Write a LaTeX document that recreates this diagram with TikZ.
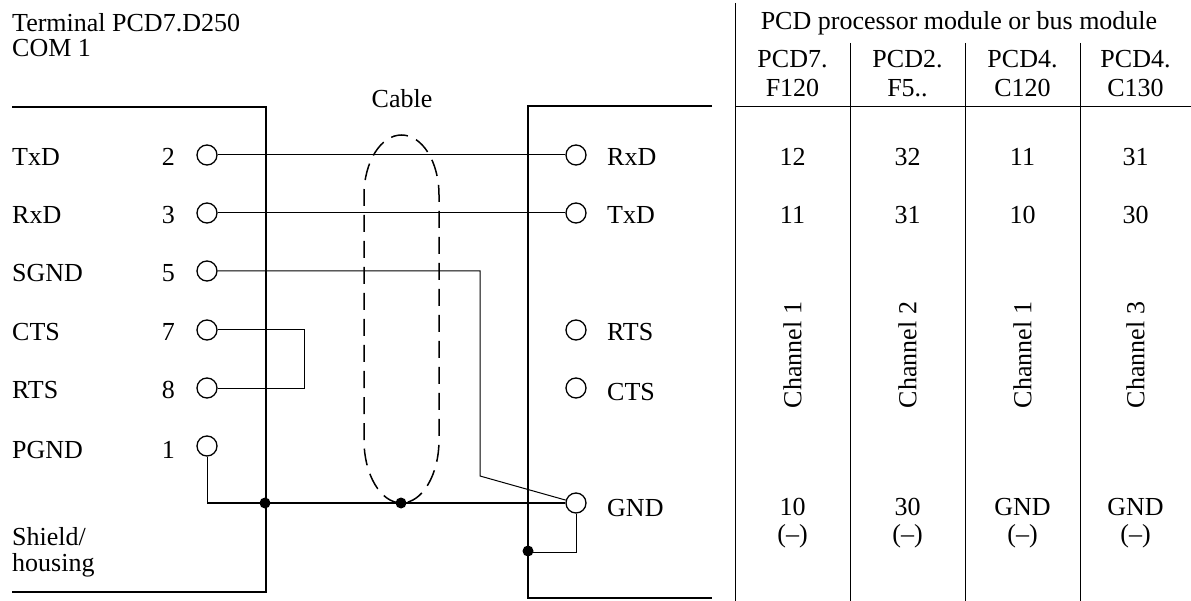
\documentclass[tikz,border=0pt]{standalone}
\usepackage{fontspec}
\setmainfont{Liberation Serif}
\begin{document}
\begin{tikzpicture}[x=1pt,y=-1pt,
  every node/.style={font=\fontsize{26}{30}\selectfont, inner sep=0pt},
  lbl/.style={anchor=base west},
  num/.style={anchor=base east},
  ctr/.style={anchor=base},
  pin/.style={circle, draw, line width=1.3pt, minimum size=20pt, inner sep=0pt, fill=white},
  wire/.style={line width=1pt},
  bus/.style={line width=2pt},
  frame/.style={line width=2pt},
  gridline/.style={line width=1pt},
  junc/.style={circle, fill, minimum size=11pt, inner sep=0pt},
  cable/.style={dash pattern=on 17pt off 9pt, line width=1.5pt}]

\useasboundingbox (0,0) rectangle (1191,601);

% frames
\draw[frame] (12,107) -- (266,107) -- (266,592) -- (12,592);
\draw[frame] (712,106) -- (528,106) -- (528,598) -- (712,598);

% table grid
\draw[gridline] (735,3) -- (735,601);
\draw[gridline] (735,107) -- (1191,107);
\foreach \x in {850,965,1080} \draw[gridline] (\x,43) -- (\x,601);

% cable
\draw[cable] (364,440) -- (364,195) arc[start angle=180, end angle=360, x radius=37.5, y radius=60]
  -- (439,440) arc[start angle=0, end angle=180, x radius=37.5, y radius=63] -- cycle;

\coordinate (sg) at (480,476);
\coordinate (br) at (304,388);
\coordinate (gl) at (207,503);
\coordinate (gb) at (528,552);

% left pins
\node[pin] (l2) at (207,155) {};
\node[pin] (l3) at (207,213) {};
\node[pin] (l5) at (207,271) {};
\node[pin] (l7) at (207,330) {};
\node[pin] (l8) at (207,388) {};
\node[pin] (l1) at (207,446) {};
% right pins
\node[pin] (rrxd) at (576,155) {};
\node[pin] (rtxd) at (576,213) {};
\node[pin] (rrts) at (576,330) {};
\node[pin] (rcts) at (576,388) {};
\node[pin] (rgnd) at (576,503) {};

\draw[wire] (l2) -- (rrxd);
\draw[wire] (l3) -- (rtxd);
\draw[wire] (l5.east) -| (sg) -- (rgnd);
\draw[wire] (l7.east) -| (br) -- (l8.east);
\draw[wire] (l1.south) -- (gl);
\draw[bus] (gl) -- (rgnd.west);
\draw[wire] (rgnd.south) |- (gb);
\node[junc] (j1) at (265,503) {};
\node[junc] (j2) at (401,503) {};
\node[junc] (j3) at (528,551) {};

% left texts
\node[lbl] (t1) at (12,32) {Terminal PCD7.D250};
\node[lbl] (t2) at (12,57) {COM 1};
\node[ctr] (cab) at (402,108) {Cable};
\node[lbl] (a1) at (12,166) {TxD};
\node[lbl] (a2) at (12,224) {RxD};
\node[lbl] (a3) at (12,282) {SGND};
\node[lbl] (a4) at (12,341) {CTS};
\node[lbl] (a5) at (12,399) {RTS};
\node[lbl] (a6) at (12,458) {PGND};
\node[lbl] (a7) at (12,545) {Shield/};
\node[lbl] (a8) at (12,571) {housing};
\node[num] (n1) at (175,166) {2};
\node[num] (n2) at (175,224) {3};
\node[num] (n3) at (175,282) {5};
\node[num] (n4) at (175,341) {7};
\node[num] (n5) at (175,399) {8};
\node[num] (n6) at (175,458) {1};

% right texts
\node[lbl] (b1) at (607,166) {RxD};
\node[lbl] (b2) at (607,224) {TxD};
\node[lbl] (b3) at (607,341) {RTS};
\node[lbl] (b4) at (607,400) {CTS};
\node[lbl] (b5) at (607,516) {GND};

% table texts
\node[ctr] (hdr) at (959,30) {PCD processor module or bus module};
\node[ctr] (h1a) at (792.5,68) {PCD7.};
\node[ctr] (h1b) at (792.5,97) {F120};
\node[ctr] (h2a) at (907.5,68) {PCD2.};
\node[ctr] (h2b) at (907.5,97) {F5..};
\node[ctr] (h3a) at (1022.5,68) {PCD4.};
\node[ctr] (h3b) at (1022.5,97) {C120};
\node[ctr] (h4a) at (1135.5,68) {PCD4.};
\node[ctr] (h4b) at (1135.5,97) {C130};

\node[ctr] (v11) at (792.5,166) {12};
\node[ctr] (v21) at (907.5,166) {32};
\node[ctr] (v31) at (1022.5,166) {11};
\node[ctr] (v41) at (1135.5,166) {31};
\node[ctr] (v12) at (792.5,224) {11};
\node[ctr] (v22) at (907.5,224) {31};
\node[ctr] (v32) at (1022.5,224) {10};
\node[ctr] (v42) at (1135.5,224) {30};

\node[rotate=90] (c1) at (792.5,355) {Channel 1};
\node[rotate=90] (c2) at (907.5,355) {Channel 2};
\node[rotate=90] (c3) at (1022.5,355) {Channel 1};
\node[rotate=90] (c4) at (1135.5,355) {Channel 3};

\node[ctr] (g1) at (792.5,515) {10};
\node[ctr] (g2) at (907.5,515) {30};
\node[ctr] (g3) at (1022.5,515) {GND};
\node[ctr] (g4) at (1135.5,515) {GND};
\node[ctr] (m1) at (792.5,542) {(–)};
\node[ctr] (m2) at (907.5,542) {(–)};
\node[ctr] (m3) at (1022.5,542) {(–)};
\node[ctr] (m4) at (1135.5,542) {(–)};
\end{tikzpicture}
\end{document}
